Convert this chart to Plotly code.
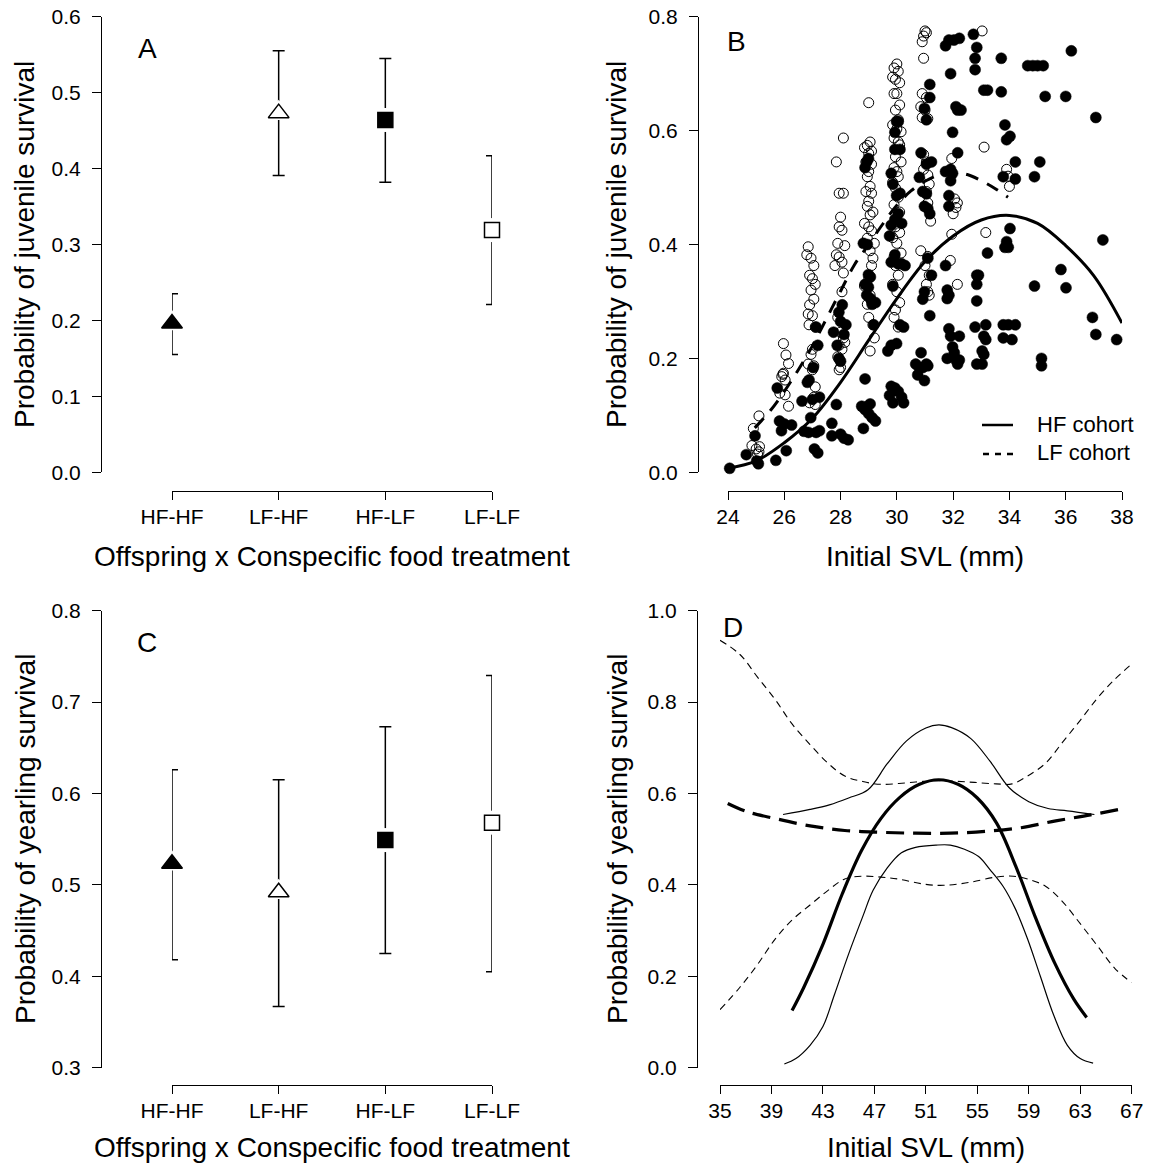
import plotly.graph_objects as go

W, H = 1150, 1166
FONT = "Liberation Sans, Arial, sans-serif"

# ---------------- Panel A / C : treatment means with CIs ----------------
treatments = ["HF-HF", "LF-HF", "HF-LF", "LF-LF"]
juv_mean = [0.196, 0.473, 0.464, 0.319]
juv_upper = [0.235, 0.555, 0.545, 0.417]
juv_lower = [0.155, 0.391, 0.382, 0.221]

yr_mean = [0.523, 0.492, 0.549, 0.568]
yr_upper = [0.626, 0.615, 0.673, 0.729]
yr_lower = [0.418, 0.367, 0.425, 0.405]

marker_symbols = ["triangle-up", "triangle-up", "square", "square"]
marker_fills = ["black", "white", "black", "white"]
marker_sizes = [18, 18, 15, 15]

# ---------------- Panel B : juvenile survival vs initial SVL ----------------
hf_fit_svl = [24, 25, 26, 27, 28, 29, 30, 31, 32, 33, 34, 35, 36, 37, 38]
hf_fit_surv = [0.007, 0.02, 0.052, 0.095, 0.158, 0.232, 0.305, 0.37, 0.415,
               0.443, 0.451, 0.437, 0.398, 0.345, 0.262]
lf_fit_svl = [24.95, 25.5, 26, 26.5, 27, 27.5, 28, 28.5, 29, 29.5, 30, 30.5,
              31, 31.5, 32, 32.5, 33, 33.5, 33.95]
lf_fit_surv = [0.078, 0.108, 0.142, 0.18, 0.222, 0.27, 0.318, 0.365, 0.40,
               0.436, 0.469, 0.494, 0.511, 0.522, 0.526, 0.523, 0.512, 0.498, 0.483]

# LF cohort individuals (open circles)
lf_svl = [
    24.9, 25.1, 24.85, 25.12, 25.1, 25.0, 25.05,
    25.97, 26.06, 26.15, 25.97, 25.91, 26.03, 25.84, 26.15, 26.03, 25.95,
    26.85, 26.8, 26.95, 27.05, 26.9, 27.0, 27.1, 26.95, 27.05, 26.9, 26.85, 27.0,
    26.88, 27.1, 27.0, 26.95, 26.85, 27.05, 27.0, 27.1, 27.05, 26.9, 27.1,
    28.1, 27.85, 27.95, 28.1, 28.0, 27.95, 28.05, 27.9, 28.15, 27.85, 27.95, 28.05,
    27.8, 28.1, 28.05, 27.9, 28.0, 28.1, 28.15, 27.95, 28.05, 27.9, 28.0, 27.95,
    29.0, 29.05, 28.95, 29.1, 28.85, 29.0, 28.9, 29.1, 29.0, 28.95, 29.05, 28.9,
    29.1, 29.0, 28.95, 29.15, 29.05, 28.85, 29.0, 29.1, 28.95, 29.2, 29.05, 29.15,
    29.1, 29.0, 28.85, 29.05, 29.1, 28.95, 29.0, 29.15, 29.2, 29.05,
    30.0, 29.9, 30.05, 29.85, 29.95, 30.1, 29.9, 30.0, 30.1, 29.95, 30.05, 29.85,
    30.0, 30.15, 29.9, 30.05, 30.1, 29.95, 30.15, 29.9, 30.0, 30.05, 29.85, 29.95,
    30.05, 29.9, 30.1, 30.0, 29.95, 30.1, 29.85, 30.0, 30.15, 29.9, 29.95, 30.05,
    29.85, 30.0, 30.1, 29.95, 29.9, 30.05,
    31.0, 31.05, 30.95, 30.9, 30.95, 30.9, 31.05, 30.85, 31.0, 30.9, 31.1, 30.95,
    31.05, 30.95, 31.1, 31.15, 31.05, 31.1, 31.2, 30.85, 31.1, 31.0, 31.15, 31.05,
    31.1, 31.15,
    31.95, 32.05, 32.15, 32.1, 32.0, 31.95, 31.9, 32.15,
    33.03, 33.1, 33.16, 33.9, 34.0, 33.95,
]
lf_surv = [
    0.077, 0.099, 0.047, 0.045, 0.036, 0.041, 0.032,
    0.226, 0.206, 0.191, 0.174, 0.168, 0.162, 0.139, 0.116, 0.136, 0.172,
    0.396, 0.382, 0.376, 0.363, 0.346, 0.34, 0.33, 0.32, 0.304, 0.294, 0.278, 0.275,
    0.259, 0.255, 0.216, 0.207, 0.19, 0.187, 0.18, 0.15, 0.132, 0.122, 0.119,
    0.587, 0.545, 0.49, 0.49, 0.448, 0.431, 0.425, 0.402, 0.398, 0.382, 0.378, 0.369,
    0.363, 0.35, 0.317, 0.272, 0.246, 0.236, 0.228, 0.223, 0.216, 0.203, 0.184, 0.18,
    0.649, 0.58, 0.574, 0.564, 0.57, 0.56, 0.545, 0.541, 0.528, 0.519, 0.502, 0.493,
    0.49, 0.476, 0.467, 0.457, 0.452, 0.437, 0.431, 0.424, 0.411, 0.402, 0.389, 0.376,
    0.363, 0.34, 0.327, 0.311, 0.3, 0.295, 0.272, 0.259, 0.236, 0.213,
    0.717, 0.71, 0.704, 0.694, 0.69, 0.684, 0.665, 0.665, 0.645, 0.636, 0.619, 0.61,
    0.603, 0.598, 0.587, 0.58, 0.575, 0.554, 0.545, 0.535, 0.528, 0.519, 0.509, 0.499,
    0.483, 0.47, 0.457, 0.44, 0.431, 0.421, 0.412, 0.402, 0.385, 0.378, 0.363, 0.346,
    0.33, 0.317, 0.298, 0.285, 0.272, 0.255,
    0.775, 0.772, 0.766, 0.756, 0.727, 0.665, 0.658, 0.642, 0.636, 0.623, 0.621, 0.558,
    0.545, 0.532, 0.522, 0.506, 0.493, 0.473, 0.441, 0.389, 0.379, 0.363, 0.346, 0.33,
    0.317, 0.311,
    0.551, 0.48, 0.473, 0.465, 0.454, 0.418, 0.372, 0.33,
    0.775, 0.571, 0.421, 0.532, 0.502, 0.52,
]

# HF cohort individuals (filled circles)
hf_svl = [
    24.06, 24.65, 24.96, 25.08, 25.02,
    25.7, 25.83, 25.9, 26.07, 26.26, 26.0, 25.75,
    26.63, 26.82, 26.88, 26.94, 27.07, 27.19, 27.13, 27.25, 27.25, 27.13, 27.19,
    27.03, 26.86, 26.7, 27.0,
    27.69, 27.85, 28.0, 28.12, 28.27, 27.69, 27.75, 27.94, 28.0, 28.06, 28.12,
    28.19, 27.94, 28.0, 27.88,
    28.81, 28.87, 28.75, 28.87, 29.0, 29.12, 29.24, 29.05, 28.93, 28.87, 28.93,
    28.99, 28.81, 28.95, 28.87, 28.99, 28.93, 29.06, 29.24, 29.12, 29.18, 29.06, 28.99,
    29.74, 29.8, 29.93, 30.05, 30.17, 30.24, 29.86, 29.68, 29.8, 29.99, 30.11, 30.24,
    29.86, 29.8, 29.93, 30.05, 30.17, 30.29, 29.74, 29.8, 29.93, 30.05, 30.17, 29.99,
    30.11, 29.86, 29.8, 29.93, 29.99, 30.05, 29.93, 30.11,
    30.8, 30.92, 31.05, 30.98, 31.1, 31.17, 30.86, 31.05, 30.98, 31.05, 31.17, 31.17,
    31.23, 30.98, 30.92, 31.17, 31.1, 31.23, 30.67, 30.8, 30.74, 30.92, 30.98, 30.86,
    31.1, 31.05,
    31.73, 31.85, 32.03, 32.22, 31.91, 31.98, 32.1, 32.16, 32.28, 31.91, 31.91, 31.98,
    32.16, 31.73, 31.85, 31.85, 31.73, 31.79, 31.85, 31.79, 31.85, 31.91, 32.22, 31.98,
    32.04, 31.79, 32.1, 32.16, 32.22,
    32.72, 32.84, 32.78, 32.78, 33.09, 33.22, 32.84, 32.9, 32.84, 32.84, 32.78, 33.16,
    33.09, 33.16, 33.03, 33.09, 32.84, 33.03, 33.22,
    33.71, 33.71, 33.84, 33.9, 34.02, 34.21, 33.78, 34.21, 34.02, 33.9, 33.96, 33.84,
    33.78, 33.96, 34.21, 33.78, 34.09,
    34.65, 34.83, 35.0, 35.2, 35.08, 34.89, 34.89, 35.14, 35.14,
    35.27, 36.0, 36.2, 35.83, 36.01,
    37.07, 36.95, 37.07, 37.32, 37.81,
]
hf_surv = [
    0.007, 0.031, 0.064, 0.015, 0.02,
    0.021, 0.09, 0.073, 0.038, 0.083, 0.085, 0.148,
    0.125, 0.158, 0.162, 0.096, 0.041, 0.034, 0.07, 0.073, 0.132, 0.255, 0.223,
    0.184, 0.07, 0.072, 0.128,
    0.064, 0.119, 0.067, 0.06, 0.057, 0.086, 0.246, 0.281, 0.265, 0.294, 0.242,
    0.259, 0.2, 0.195, 0.223,
    0.077, 0.164, 0.116, 0.11, 0.103, 0.096, 0.09, 0.12, 0.115, 0.535, 0.545,
    0.551, 0.402, 0.4, 0.33, 0.325, 0.311, 0.305, 0.298, 0.295, 0.259, 0.343, 0.347,
    0.135, 0.151, 0.148, 0.142, 0.132, 0.122, 0.122, 0.213, 0.223, 0.226, 0.259, 0.255,
    0.327, 0.369, 0.382, 0.366, 0.366, 0.363, 0.415, 0.434, 0.444, 0.454, 0.437, 0.486,
    0.49, 0.506, 0.525, 0.597, 0.616, 0.616, 0.567, 0.567,
    0.518, 0.493, 0.489, 0.467, 0.463, 0.454, 0.561, 0.541, 0.639, 0.619, 0.681, 0.658,
    0.545, 0.317, 0.304, 0.275, 0.376, 0.346, 0.19, 0.184, 0.171, 0.184, 0.161, 0.21,
    0.187, 0.19,
    0.749, 0.759, 0.759, 0.762, 0.7, 0.597, 0.642, 0.636, 0.636, 0.532, 0.512, 0.525,
    0.561, 0.528, 0.486, 0.467, 0.363, 0.32, 0.311, 0.305, 0.252, 0.239, 0.239, 0.22,
    0.21, 0.2, 0.197, 0.19, 0.197,
    0.769, 0.746, 0.727, 0.707, 0.671, 0.671, 0.346, 0.346, 0.33, 0.301, 0.255, 0.259,
    0.239, 0.233, 0.213, 0.207, 0.19, 0.19, 0.385,
    0.727, 0.668, 0.61, 0.584, 0.59, 0.545, 0.519, 0.515, 0.428, 0.405, 0.395, 0.395,
    0.259, 0.259, 0.259, 0.236, 0.233,
    0.714, 0.714, 0.714, 0.714, 0.545, 0.519, 0.327, 0.2, 0.187,
    0.66, 0.66, 0.74, 0.356, 0.324,
    0.623, 0.272, 0.242, 0.408, 0.233,
]

# ---------------- Panel D : yearling survival vs initial SVL ----------------
d_hf_fit_svl = [40.6, 41.5, 43, 44.5, 46, 47.5, 49, 50.5, 52, 53.5, 55, 56.5,
                58, 59.5, 61, 62.5, 63.5]
d_hf_fit_surv = [0.125, 0.175, 0.27, 0.38, 0.475, 0.545, 0.592, 0.62, 0.63,
                 0.62, 0.59, 0.535, 0.44, 0.33, 0.23, 0.15, 0.11]
d_hf_up_svl = [39.9, 42, 43.5, 45, 46.5, 48, 49.5, 51, 52, 53, 54.5, 56, 57.5,
               59, 60.5, 62, 64.1]
d_hf_up_surv = [0.554, 0.565, 0.575, 0.59, 0.608, 0.665, 0.715, 0.743, 0.75,
                0.744, 0.72, 0.67, 0.612, 0.582, 0.567, 0.562, 0.554]
d_hf_lo_svl = [40.0, 40.9, 42.0, 43.0, 43.9, 45.0, 46.1, 46.9, 48.0, 49.1, 50.2,
               51.8, 52.9, 54.0, 55.1, 56.0, 57.0, 57.95, 58.9, 59.9, 60.95, 62.0,
               63.0, 64.0]
d_hf_lo_surv = [0.008, 0.02, 0.049, 0.09, 0.16, 0.249, 0.331, 0.388, 0.437, 0.47,
                0.482, 0.487, 0.487, 0.478, 0.462, 0.433, 0.397, 0.348, 0.282, 0.2,
                0.114, 0.049, 0.02, 0.01]
d_lf_fit_svl = [35.6, 37.1, 39.3, 42.0, 44.7, 47.5, 50.2, 52.9, 55.6, 58.4,
                61.1, 63.8, 66.4]
d_lf_fit_surv = [0.578, 0.56, 0.545, 0.529, 0.519, 0.515, 0.513, 0.513, 0.517,
                 0.525, 0.54, 0.553, 0.567]
d_lf_up_svl = [35, 36.55, 37.9, 39.3, 40.6, 42.0, 43.4, 44.7, 46.1, 47.5, 50.2,
               51.8, 54.3, 56.45, 57.7, 58.9, 60.3, 61.6, 63.0, 64.35, 65.7, 67]
d_lf_up_surv = [0.935, 0.904, 0.855, 0.805, 0.752, 0.707, 0.666, 0.638, 0.626,
                0.62, 0.625, 0.628, 0.625, 0.621, 0.621, 0.638, 0.666, 0.711,
                0.76, 0.809, 0.85, 0.883]
d_lf_lo_svl = [35, 36.55, 37.9, 39.3, 40.6, 42.0, 43.4, 44.7, 46.1, 47.5, 48.8,
               51.0, 52.4, 54.3, 56.45, 57.8, 58.9, 60.3, 61.6, 63.0, 64.35, 65.7, 67]
d_lf_lo_surv = [0.127, 0.176, 0.225, 0.282, 0.323, 0.356, 0.388, 0.413, 0.419,
                0.417, 0.413, 0.401, 0.399, 0.405, 0.417, 0.419, 0.413, 0.397,
                0.364, 0.315, 0.266, 0.217, 0.186]

# ---------------- layout helpers (window pixel -> paper) ----------------
def fx(px):
    return px / W


def fy(py):
    return 1 - py / H


fig = go.Figure()


def add_means(xa, ya, mean, upper, lower):
    err_plus = [u - m for u, m in zip(upper, mean)]
    err_minus = [m - l for m, l in zip(mean, lower)]
    fig.add_trace(go.Scatter(
        x=treatments, y=mean, xaxis=xa, yaxis=ya, mode="markers",
        marker=dict(size=1, color="rgba(0,0,0,0)", opacity=1),
        error_y=dict(type="data", symmetric=False, array=err_plus,
                     arrayminus=err_minus, width=6, thickness=1.5, color="black"),
        cliponaxis=False, showlegend=False, hoverinfo="skip"))
    fig.add_trace(go.Scatter(
        x=treatments, y=mean, xaxis=xa, yaxis=ya, mode="markers",
        marker=dict(symbol=marker_symbols, size=[s + 9 for s in marker_sizes],
                    color="white", opacity=1, line=dict(width=0)),
        cliponaxis=False, showlegend=False, hoverinfo="skip"))
    fig.add_trace(go.Scatter(
        x=treatments, y=mean, xaxis=xa, yaxis=ya, mode="markers",
        marker=dict(symbol=marker_symbols, size=marker_sizes, color=marker_fills,
                    opacity=1, line=dict(color="black", width=1.5)),
        cliponaxis=False, showlegend=False))


add_means("x", "y", juv_mean, juv_upper, juv_lower)
add_means("x3", "y3", yr_mean, yr_upper, yr_lower)

# Panel B
fig.add_trace(go.Scatter(
    x=lf_svl, y=lf_surv, xaxis="x2", yaxis="y2", mode="markers",
    marker=dict(symbol="circle-open", size=10, color="black", opacity=1,
                line=dict(width=1)),
    cliponaxis=False, showlegend=False, name="LF cohort individuals"))
fig.add_trace(go.Scatter(
    x=hf_svl, y=hf_surv, xaxis="x2", yaxis="y2", mode="markers",
    marker=dict(symbol="circle", size=11, color="black", opacity=1,
                line=dict(width=0.5, color="black")),
    cliponaxis=False, showlegend=False, name="HF cohort individuals"))
fig.add_trace(go.Scatter(
    x=hf_fit_svl, y=hf_fit_surv, xaxis="x2", yaxis="y2", mode="lines",
    line=dict(color="black", width=3, shape="spline"),
    cliponaxis=False, showlegend=False, name="HF cohort"))
fig.add_trace(go.Scatter(
    x=lf_fit_svl, y=lf_fit_surv, xaxis="x2", yaxis="y2", mode="lines",
    line=dict(color="black", width=3, dash="13px,10px", shape="spline"),
    cliponaxis=False, showlegend=False, name="LF cohort"))

# Panel D
thin = dict(color="black", width=1.2, shape="spline")
thin_dash = dict(color="black", width=1.1, dash="7px,5px", shape="spline")
for xs, ys, ln in [
    (d_lf_up_svl, d_lf_up_surv, thin_dash),
    (d_lf_lo_svl, d_lf_lo_surv, thin_dash),
    (d_hf_up_svl, d_hf_up_surv, thin),
    (d_hf_lo_svl, d_hf_lo_surv, thin),
    (d_hf_fit_svl, d_hf_fit_surv, dict(color="black", width=3.2, shape="spline")),
    (d_lf_fit_svl, d_lf_fit_surv, dict(color="black", width=3.2, dash="18px,9px", shape="spline")),
]:
    fig.add_trace(go.Scatter(x=xs, y=ys, xaxis="x4", yaxis="y4", mode="lines",
                             line=ln, cliponaxis=False, showlegend=False))

# ---------------- axes ----------------
tickfont = dict(family=FONT, size=21, color="black")
common = dict(showgrid=False, zeroline=False, showline=True, linecolor="black",
              linewidth=1, ticks="outside", tickcolor="black", tickwidth=1,
              tickfont=tickfont, anchor="free", automargin=False,
              ticklabeloverflow="allow")

top_ydom = [fy(472.3), fy(16.7)]
bot_ydom = [fy(1067.7), fy(610.6)]
XSTAND = -1
YSTAND = 7

fig.update_layout(
    xaxis=dict(common, domain=[fx(172), fx(492)], position=fy(491), type="category",
               range=[0, 3], ticklen=8, ticklabelstandoff=XSTAND),
    yaxis=dict(common, domain=top_ydom, position=fx(101), range=[0, 0.6], dtick=0.1,
               tickformat=".1f", ticklen=9, ticklabelstandoff=YSTAND),
    xaxis2=dict(common, domain=[fx(728), fx(1122)], position=fy(491), range=[24, 38],
                dtick=2, ticklen=8, ticklabelstandoff=XSTAND),
    yaxis2=dict(common, domain=top_ydom, position=fx(698), range=[0, 0.8], dtick=0.2,
                tickformat=".1f", ticklen=9, ticklabelstandoff=YSTAND),
    xaxis3=dict(common, domain=[fx(172), fx(492)], position=fy(1085), type="category",
                range=[0, 3], ticklen=8, ticklabelstandoff=XSTAND),
    yaxis3=dict(common, domain=bot_ydom, position=fx(101), range=[0.3, 0.8], dtick=0.1,
                tickformat=".1f", ticklen=9, ticklabelstandoff=YSTAND),
    xaxis4=dict(common, domain=[fx(720), fx(1131.7)], position=fy(1085), range=[35, 67],
                tickmode="array", tickvals=list(range(35, 68, 4)), ticklen=8,
                ticklabelstandoff=XSTAND),
    yaxis4=dict(common, domain=bot_ydom, position=fx(697), range=[0, 1], dtick=0.2,
                tickformat=".1f", ticklen=9, ticklabelstandoff=YSTAND),
)

# ---------------- texts ----------------
title_font = dict(family=FONT, size=28, color="black")
annotations = [
    dict(text="A", x=fx(147), y=fy(48)),
    dict(text="B", x=fx(736), y=fy(42)),
    dict(text="C", x=fx(147), y=fy(642)),
    dict(text="D", x=fx(733), y=fy(628)),
    dict(text="Offspring x Conspecific food treatment", x=fx(332), y=fy(556)),
    dict(text="Initial SVL (mm)", x=fx(925), y=fy(556)),
    dict(text="Offspring x Conspecific food treatment", x=fx(332), y=fy(1147)),
    dict(text="Initial SVL (mm)", x=fx(926), y=fy(1147)),
    dict(text="Probability of juvenile survival", x=fx(25), y=fy(245), textangle=-90),
    dict(text="Probability of juvenile survival", x=fx(617), y=fy(245), textangle=-90),
    dict(text="Probability of yearling survival", x=fx(25), y=fy(839), textangle=-90),
    dict(text="Probability of yearling survival", x=fx(617), y=fy(839), textangle=-90),
]
for a in annotations:
    a.update(xref="paper", yref="paper", showarrow=False, font=title_font,
             xanchor="center", yanchor="middle")

legend_font = dict(family=FONT, size=22, color="black")
annotations += [
    dict(text="HF cohort", x=fx(1035), y=fy(425), xref="paper", yref="paper",
         showarrow=False, font=legend_font, xanchor="left", yanchor="middle"),
    dict(text="LF cohort", x=fx(1035), y=fy(453), xref="paper", yref="paper",
         showarrow=False, font=legend_font, xanchor="left", yanchor="middle"),
]
shapes = [
    dict(type="line", xref="paper", yref="paper", x0=fx(982), x1=fx(1013),
         y0=fy(425), y1=fy(425), line=dict(color="black", width=2.5)),
    dict(type="line", xref="paper", yref="paper", x0=fx(983), x1=fx(1013),
         y0=fy(454), y1=fy(454), line=dict(color="black", width=2.5, dash="6px,6px")),
]

fig.update_layout(
    width=W, height=H,
    margin=dict(l=0, r=0, t=0, b=0, pad=0, autoexpand=False),
    paper_bgcolor="white", plot_bgcolor="white",
    font=dict(family=FONT, color="black"),
    annotations=annotations, shapes=shapes, showlegend=False,
    hovermode=False,
)

# remove the browser's default 8px page margin so the figure fills the window
fig.write_html("out.html",
               config={"displayModeBar": False},
               post_script="document.body.style.margin='0';document.body.style.overflow='hidden';")
